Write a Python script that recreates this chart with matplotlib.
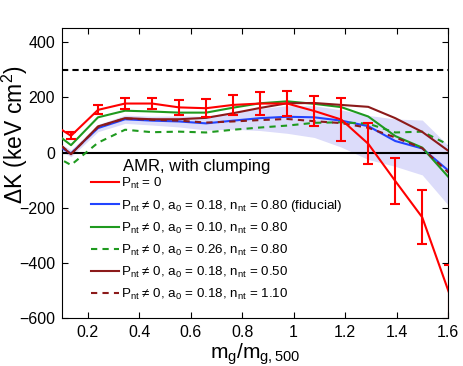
import numpy as np
import matplotlib
matplotlib.use("Agg")
import matplotlib.pyplot as plt

plt.rcParams['font.family'] = ['Liberation Sans', 'DejaVu Sans']
plt.rcParams['mathtext.default'] = 'regular'

# ---- data ----
x = [0.03, 0.135, 0.24, 0.345, 0.45, 0.555, 0.66, 0.765, 0.87, 0.975,
     1.08, 1.185, 1.29, 1.395, 1.5, 1.605]
red = [124, 61, 155, 178, 178, 164, 161, 173, 178, 178,
       151, 120, 32, -103, -235, -511]
red_err = [12, 12, 16, 19, 20, 28, 32, 36, 43, 46,
           56, 78, 75, 83, 98, 103]
blue = [54, -3, 89, 121, 116, 113, 106, 116, 125, 130,
        128, 116, 96, 42, 15, -68]
band_lo = [42, -15, 76, 106, 100, 93, 82, 85, 80, 70,
           55, 20, -25, -50, -81, -195]
band_hi = [66, 10, 102, 136, 132, 133, 132, 147, 160, 170,
           170, 155, 135, 122, 118, 22]
green = [102, 27, 128, 152, 149, 145, 145, 163, 179, 186,
         177, 165, 131, 60, 18, -92]
green_dash = [9, -45, 36, 83, 74, 76, 73, 83, 91, 98,
              108, 110, 105, 73, 76, 27]
darkred = [78, -6, 95, 125, 121, 121, 126, 143, 162, 179,
           180, 173, 166, 125, 75, 4]
darkred_dash = [78, -5, 93, 124, 119, 116, 109, 113, 118, 122,
                114, 107, 90, 55, 16, -75]

labels = [r"P$_{nt}$ = 0",
          r"P$_{nt}$ ≠ 0, a$_0$ = 0.18, n$_{nt}$ = 0.80 (fiducial)",
          r"P$_{nt}$ ≠ 0, a$_0$ = 0.10, n$_{nt}$ = 0.80",
          r"P$_{nt}$ ≠ 0, a$_0$ = 0.26, n$_{nt}$ = 0.80",
          r"P$_{nt}$ ≠ 0, a$_0$ = 0.18, n$_{nt}$ = 0.50",
          r"P$_{nt}$ ≠ 0, a$_0$ = 0.18, n$_{nt}$ = 1.10"]
xticks = [0.2, 0.4, 0.6, 0.8, 1.0, 1.2, 1.4, 1.6]
xticklabels = ["0.2", "0.4", "0.6", "0.8", "1", "1.2", "1.4", "1.6"]
yticks = [-600, -400, -200, 0, 200, 400]

c_red = '#ff0000'
c_blue = '#2244ff'
c_green = '#1f9a1f'
c_dred = '#8c1a1a'

fig = plt.figure(figsize=(4.63, 3.66), dpi=100)
ax = fig.add_axes([62/463, 1-318/366, 386/463, 290/366])

ax.fill_between(x, band_lo, band_hi, color='#dcdcfa', lw=0, zorder=1)
ax.axhline(300, color='k', ls='--', lw=1.5, dashes=(3, 2), zorder=2)
ax.axhline(0, color='k', lw=1.5, zorder=2)

lw = 1.5
l_red = ax.errorbar(x, red, yerr=red_err, color=c_red, lw=lw, capsize=3.8,
                    capthick=1.5, elinewidth=1.5, zorder=6)
l_blue, = ax.plot(x, blue, color=c_blue, lw=lw, zorder=4)
l_green, = ax.plot(x, green, color=c_green, lw=lw, zorder=4)
l_gd, = ax.plot(x, green_dash, color=c_green, lw=lw, ls='--', dashes=(3, 2.5), zorder=4)
l_dr, = ax.plot(x, darkred, color=c_dred, lw=lw, zorder=4)
l_drd, = ax.plot(x, darkred_dash, color=c_dred, lw=lw, ls='--', dashes=(3, 2.5), zorder=4)

ax.set_xlim(0.1, 1.6)
ax.set_ylim(-600, 452)
ax.set_xticks(xticks)
ax.set_xticklabels(xticklabels)
ax.set_yticks(yticks)
ax.tick_params(direction='in', top=True, right=True, length=4, width=0.8,
               labelsize=11.5, pad=5)
for s in ax.spines.values():
    s.set_linewidth(0.8)

fig.text(15/463, 1-135/366, r"$\Delta$K (keV cm$^2$)", fontsize=16.5,
         rotation=90, ha='center', va='center')
ax.set_xlabel(r"m$_g$/m$_{g,500}$", fontsize=15, labelpad=1)

handles = [matplotlib.lines.Line2D([], [], color=c_red, lw=lw), l_blue, l_green, l_gd, l_dr, l_drd]
leg = ax.legend(handles, labels, loc='upper left', bbox_to_anchor=(0.075, 0.49),
                frameon=False, fontsize=9.6, handlelength=2.1, handletextpad=0.15,
                labelspacing=0.52, borderpad=0, borderaxespad=0)
ax.text(0.158, 0.495, "AMR, with clumping", transform=ax.transAxes,
        fontsize=12, ha='left', va='bottom')

fig.savefig("out.png", dpi=100)
